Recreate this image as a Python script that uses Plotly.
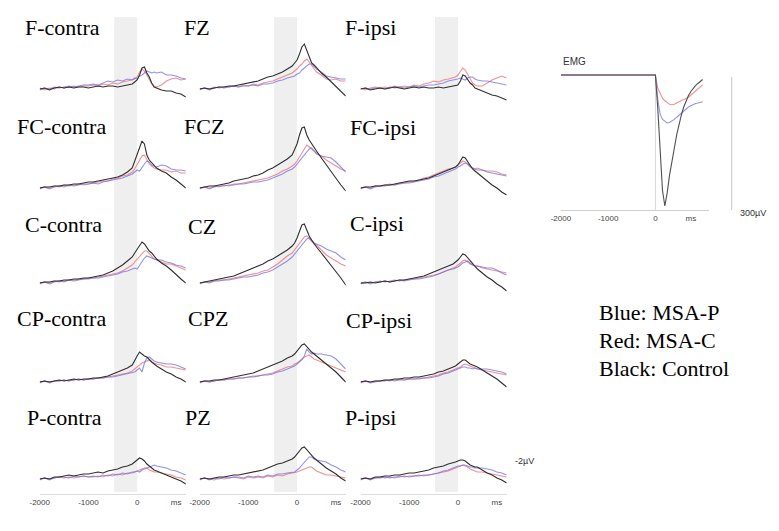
import plotly.graph_objects as go

# time points (ms) for the EEG averages
eeg_t = [-2000, -1900, -1800, -1700, -1600, -1500, -1400, -1300, -1200, -1100,
         -1000, -900, -800, -700, -600, -500, -400, -300, -200, -100,
         -50, 0, 50, 100, 150, 200, 250, 300, 350, 400,
         500, 600, 700, 800, 900, 1000]

# amplitudes in uV (negative = up)
f_contra_blue = [0.1, -0.1, 0.0, -0.2, -0.1, -0.2, -0.3, -0.2, -0.3, -0.4, -0.4, -0.5, -0.4, -0.6, -0.8, -0.7, -0.9, -0.8, -1.0, -0.9,
                 -1.1, -1.0, -1.3, -1.4, -1.6, -1.8, -1.7, -1.6, -1.7, -1.6,
                 -1.7, -1.4, -1.4, -1.3, -1.1, -1.0]
f_contra_red = [-0.1, 0.1, -0.1, 0.0, -0.2, -0.1, -0.2, -0.3, -0.2, -0.3, -0.3, -0.4, -0.3, -0.5, -0.4, -0.6, -0.5, -0.7, -0.8, -0.9,
                -1.0, -1.2, -1.7, -2.0, -1.8, -1.4, -0.9, -0.5, -0.3, -0.2,
                -0.4, -0.8, -1.0, -1.1, -0.9, -1.0]
f_contra_black = [0.0, -0.1, 0.1, -0.1, -0.2, -0.1, -0.2, -0.1, -0.2, -0.2, -0.1, -0.2, -0.3, -0.2, -0.3, -0.3, -0.2, -0.3, -0.4, -0.5,
                  -0.7, -0.9, -1.4, -2.1, -2.2, -1.6, -1.2, -0.6, -0.2, -0.1,
                  0.1, 0.2, 0.2, 0.4, 0.5, 0.8]

fz_blue = [0.0, -0.1, 0.1, -0.1, -0.2, -0.1, -0.2, -0.3, -0.2, -0.3, -0.3, -0.4, -0.3, -0.5, -0.5, -0.6, -0.8, -0.9, -1.1, -1.2,
           -1.3, -1.5, -1.6, -1.9, -2.1, -2.3, -2.5, -2.5, -2.2, -2.0,
           -1.7, -1.3, -1.2, -1.1, -1.0, -1.0]
fz_red = [0.1, -0.1, 0.0, -0.2, -0.1, -0.2, -0.2, -0.3, -0.2, -0.4, -0.3, -0.5, -0.4, -0.6, -0.7, -0.8, -1.0, -1.2, -1.4, -1.6,
          -1.8, -2.0, -2.3, -2.5, -2.8, -3.0, -2.7, -2.3, -2.0, -1.7,
          -1.4, -1.0, -0.9, -1.0, -0.8, -0.8]
fz_black = [0.0, -0.1, 0.0, -0.1, -0.2, -0.2, -0.3, -0.3, -0.4, -0.5, -0.6, -0.7, -0.8, -1.0, -1.2, -1.3, -1.5, -1.7, -2.0, -2.3,
            -2.6, -2.9, -3.5, -4.2, -4.5, -3.8, -3.1, -2.6, -2.4, -2.1,
            -1.6, -1.2, -0.7, -0.2, 0.3, 0.7]

f_ipsi_blue = [0.0, -0.1, 0.0, -0.1, -0.1, 0.0, -0.2, -0.1, -0.2, -0.1, -0.2, -0.3, -0.2, -0.3, -0.4, -0.4, -0.5, -0.6, -0.8, -0.9,
               -0.9, -1.0, -1.1, -1.0, -0.9, -1.1, -1.2, -1.2, -1.0, -0.9,
               -0.8, -0.8, -0.7, -0.6, -0.5, -0.4]
f_ipsi_red = [-0.1, 0.1, -0.1, -0.2, -0.1, -0.2, -0.1, -0.3, -0.2, -0.3, -0.2, -0.4, -0.3, -0.5, -0.6, -0.8, -0.7, -0.9, -1.0, -1.1,
              -1.2, -1.4, -1.8, -2.1, -1.9, -1.5, -1.0, -0.6, -0.4, -0.3,
              -0.3, -0.6, -0.9, -1.1, -1.3, -1.1]
f_ipsi_black = [0.0, -0.1, 0.1, 0.0, -0.1, 0.0, -0.1, -0.2, -0.1, 0.0, -0.1, -0.2, -0.1, -0.2, -0.1, -0.1, -0.2, -0.1, -0.2, -0.3,
                -0.3, -0.4, -0.8, -1.4, -1.3, -0.9, -0.6, -0.4, -0.1, 0.0,
                0.2, 0.4, 0.6, 0.7, 0.9, 1.1]

fc_contra_blue = [0.0, -0.1, 0.1, -0.1, -0.2, -0.1, -0.3, -0.2, -0.3, -0.4, -0.4, -0.5, -0.4, -0.6, -0.7, -0.8, -0.9, -1.0, -1.2, -1.4,
                  -1.6, -1.8, -1.7, -2.1, -2.4, -2.7, -2.6, -2.3, -2.2, -2.1,
                  -2.3, -2.2, -1.9, -1.8, -1.8, -1.7]
fc_contra_red = [0.1, -0.1, 0.0, -0.2, -0.1, -0.3, -0.2, -0.3, -0.4, -0.3, -0.4, -0.5, -0.6, -0.7, -0.7, -0.9, -1.0, -1.2, -1.3, -1.6,
                 -1.9, -2.3, -2.8, -3.2, -3.3, -2.9, -2.4, -2.2, -2.0, -1.9,
                 -1.8, -1.8, -1.6, -1.7, -1.5, -1.5]
fc_contra_black = [0.0, -0.1, -0.1, -0.2, -0.2, -0.3, -0.3, -0.4, -0.4, -0.5, -0.6, -0.6, -0.7, -0.8, -0.9, -1.0, -1.1, -1.3, -1.6, -2.0,
                   -2.7, -3.3, -4.0, -4.7, -4.4, -3.3, -2.8, -2.5, -2.2, -2.0,
                   -1.7, -1.5, -1.1, -0.8, -0.4, 0.0]

fcz_blue = [0.0, -0.1, 0.1, -0.1, -0.2, -0.2, -0.3, -0.3, -0.4, -0.4, -0.5, -0.6, -0.6, -0.7, -0.8, -1.0, -1.2, -1.4, -1.7, -1.9,
            -2.1, -2.4, -2.6, -2.9, -3.3, -3.6, -3.9, -4.0, -3.7, -3.4,
            -3.2, -3.1, -3.0, -2.6, -2.1, -1.6]
fcz_red = [0.1, -0.1, 0.0, -0.2, -0.1, -0.3, -0.2, -0.4, -0.4, -0.5, -0.6, -0.7, -0.8, -0.9, -1.0, -1.2, -1.4, -1.7, -1.9, -2.2,
           -2.4, -2.7, -3.1, -3.6, -4.0, -4.3, -4.1, -3.9, -3.7, -3.5,
           -3.2, -2.8, -2.5, -2.2, -1.9, -1.7]
fcz_black = [0.0, -0.1, -0.2, -0.2, -0.3, -0.4, -0.5, -0.7, -0.8, -0.9, -1.0, -1.2, -1.3, -1.5, -1.8, -2.0, -2.3, -2.6, -2.9, -3.3,
             -3.8, -4.4, -5.3, -6.0, -6.1, -5.3, -4.8, -4.4, -4.0, -3.7,
             -3.0, -2.3, -1.6, -0.9, -0.3, 0.3]

fc_ipsi_blue = [0.0, -0.1, 0.1, -0.1, -0.2, -0.2, -0.3, -0.3, -0.4, -0.5, -0.5, -0.6, -0.7, -0.8, -0.9, -1.1, -1.2, -1.4, -1.6, -1.8,
                -1.9, -2.1, -2.2, -2.4, -2.5, -2.4, -2.2, -2.0, -1.9, -1.8,
                -1.8, -1.6, -1.5, -1.4, -1.3, -1.2]
fc_ipsi_red = [0.1, -0.1, 0.0, -0.2, -0.2, -0.3, -0.4, -0.3, -0.5, -0.5, -0.6, -0.7, -0.8, -1.0, -1.1, -1.3, -1.5, -1.7, -1.9, -2.0,
               -2.1, -2.3, -2.5, -2.7, -2.6, -2.3, -2.1, -2.0, -1.9, -2.0,
               -1.8, -1.7, -1.7, -1.6, -1.4, -1.3]
fc_ipsi_black = [0.0, -0.1, -0.1, -0.2, -0.2, -0.3, -0.3, -0.4, -0.5, -0.6, -0.7, -0.7, -0.8, -0.9, -1.0, -1.2, -1.4, -1.6, -1.8, -2.0,
                 -2.1, -2.3, -2.7, -3.1, -3.0, -2.6, -2.2, -1.9, -1.7, -1.5,
                 -1.1, -0.7, -0.3, 0.0, 0.4, 0.7]

c_contra_blue = [0.0, -0.1, 0.1, -0.1, -0.2, -0.1, -0.3, -0.2, -0.3, -0.4, -0.4, -0.5, -0.5, -0.6, -0.7, -0.8, -0.9, -1.1, -1.2, -1.4,
                 -1.5, -1.4, -1.8, -2.2, -2.5, -2.7, -2.6, -2.5, -2.4, -2.3,
                 -2.3, -2.1, -2.0, -1.8, -1.7, -1.5]
c_contra_red = [0.1, -0.1, 0.0, -0.2, -0.1, -0.2, -0.3, -0.3, -0.4, -0.4, -0.5, -0.5, -0.6, -0.7, -0.8, -0.9, -1.0, -1.2, -1.5, -1.8,
                -2.1, -2.4, -2.7, -3.0, -3.2, -3.2, -2.9, -2.6, -2.4, -2.3,
                -2.1, -1.9, -1.9, -1.7, -1.5, -1.3]
c_contra_black = [0.0, -0.1, -0.1, -0.2, -0.2, -0.3, -0.3, -0.4, -0.4, -0.5, -0.5, -0.6, -0.7, -0.8, -1.0, -1.2, -1.5, -1.8, -2.2, -2.6,
                  -3.0, -3.4, -3.8, -4.1, -3.9, -3.5, -3.2, -3.0, -2.7, -2.4,
                  -2.0, -1.7, -1.3, -0.8, -0.4, 0.0]

cz_blue = [0.0, -0.1, 0.0, -0.2, -0.2, -0.3, -0.3, -0.4, -0.5, -0.6, -0.6, -0.7, -0.8, -1.0, -1.1, -1.3, -1.6, -1.9, -2.2, -2.6,
           -2.9, -3.2, -3.5, -3.9, -4.2, -4.4, -4.5, -4.2, -4.0, -3.9,
           -3.7, -3.4, -3.2, -3.0, -2.6, -2.3]
cz_red = [0.1, -0.1, -0.1, -0.2, -0.3, -0.3, -0.4, -0.5, -0.6, -0.7, -0.8, -0.9, -1.0, -1.2, -1.3, -1.6, -1.9, -2.3, -2.7, -3.0,
          -3.3, -3.6, -4.0, -4.3, -4.6, -4.7, -4.4, -4.1, -3.9, -3.8,
          -3.3, -2.8, -2.5, -2.2, -1.9, -1.7]
cz_black = [0.0, -0.1, -0.2, -0.3, -0.4, -0.5, -0.6, -0.7, -0.9, -1.1, -1.3, -1.5, -1.7, -1.9, -2.2, -2.4, -2.7, -3.0, -3.3, -3.7,
            -4.0, -4.5, -5.2, -5.8, -5.9, -5.2, -4.7, -4.3, -3.9, -3.6,
            -3.0, -2.4, -1.8, -1.2, -0.5, 0.2]

c_ipsi_blue = [0.0, -0.1, 0.1, -0.1, -0.1, -0.2, -0.1, -0.2, -0.3, -0.2, -0.3, -0.4, -0.4, -0.5, -0.6, -0.7, -0.9, -1.1, -1.3, -1.4,
               -1.5, -1.6, -1.8, -2.0, -2.1, -2.2, -2.0, -1.8, -1.7, -1.7,
               -1.6, -1.5, -1.5, -1.3, -1.0, -0.8]
c_ipsi_red = [0.1, -0.1, 0.0, -0.1, -0.2, -0.1, -0.2, -0.3, -0.2, -0.3, -0.4, -0.4, -0.5, -0.6, -0.7, -0.8, -0.9, -1.1, -1.3, -1.5,
              -1.6, -1.8, -2.0, -2.2, -2.3, -2.1, -1.9, -1.8, -1.7, -1.7,
              -1.5, -1.4, -1.3, -1.2, -1.1, -1.0]
c_ipsi_black = [0.0, 0.0, -0.1, 0.0, -0.1, -0.2, -0.1, -0.2, -0.3, -0.3, -0.4, -0.5, -0.6, -0.7, -0.9, -1.1, -1.3, -1.5, -1.7, -1.9,
                -2.1, -2.3, -2.6, -2.9, -2.8, -2.5, -2.3, -2.0, -1.7, -1.4,
                -1.0, -0.6, -0.3, 0.1, 0.4, 0.8]

cp_contra_blue = [0.0, -0.1, 0.1, -0.1, -0.1, -0.2, -0.1, -0.2, -0.3, -0.2, -0.3, -0.3, -0.4, -0.4, -0.5, -0.5, -0.6, -0.7, -0.8, -0.9,
                  -1.0, -1.2, -1.4, -1.0, -1.9, -2.4, -2.5, -2.3, -2.1, -2.0,
                  -1.9, -1.8, -1.8, -1.7, -1.5, -1.3]
cp_contra_red = [0.1, -0.1, 0.0, -0.1, -0.1, -0.2, -0.1, -0.2, -0.3, -0.2, -0.3, -0.3, -0.4, -0.4, -0.5, -0.6, -0.7, -0.8, -0.9, -1.1,
                 -1.3, -1.5, -1.7, -1.9, -2.0, -2.1, -2.2, -2.0, -1.9, -1.8,
                 -1.7, -1.5, -1.5, -1.4, -1.3, -1.2]
cp_contra_black = [0.0, -0.1, 0.0, -0.1, -0.2, -0.1, -0.2, -0.3, -0.2, -0.3, -0.3, -0.4, -0.4, -0.5, -0.6, -0.8, -1.0, -1.2, -1.4, -1.7,
                   -2.2, -2.6, -3.0, -2.8, -2.6, -2.5, -2.2, -2.0, -1.8, -1.6,
                   -1.3, -1.0, -0.8, -0.5, -0.3, 0.0]

cpz_blue = [0.0, -0.1, 0.0, -0.1, -0.2, -0.2, -0.3, -0.3, -0.4, -0.4, -0.5, -0.5, -0.6, -0.7, -0.7, -0.8, -1.0, -1.1, -1.3, -1.5,
            -1.6, -1.8, -2.0, -2.2, -2.6, -3.3, -3.0, -2.8, -2.9, -2.8,
            -2.8, -2.7, -2.6, -2.3, -1.8, -1.3]
cpz_red = [0.1, -0.1, 0.0, -0.1, -0.2, -0.2, -0.3, -0.3, -0.4, -0.4, -0.5, -0.6, -0.6, -0.7, -0.8, -0.9, -1.1, -1.3, -1.5, -1.6,
           -1.8, -1.9, -2.1, -2.3, -2.5, -2.6, -2.7, -2.5, -2.3, -2.2,
           -2.0, -1.8, -1.6, -1.4, -1.2, -1.0]
cpz_black = [0.0, -0.1, -0.1, -0.2, -0.2, -0.3, -0.4, -0.5, -0.6, -0.7, -0.8, -0.9, -1.1, -1.3, -1.5, -1.7, -1.9, -2.1, -2.4, -2.6,
             -2.8, -3.1, -3.4, -3.7, -3.8, -3.5, -3.2, -3.0, -2.8, -2.6,
             -2.2, -1.8, -1.4, -1.0, -0.5, 0.0]

cp_ipsi_blue = [0.0, -0.1, 0.1, 0.0, -0.1, -0.1, -0.2, -0.1, -0.2, -0.2, -0.3, -0.3, -0.3, -0.4, -0.4, -0.5, -0.6, -0.8, -0.9, -1.1,
                -1.2, -1.3, -1.4, -1.5, -1.5, -1.4, -1.4, -1.3, -1.4, -1.3,
                -1.3, -1.3, -1.2, -1.1, -1.0, -0.8]
cp_ipsi_red = [0.1, -0.1, 0.0, -0.1, -0.1, -0.2, -0.1, -0.2, -0.3, -0.2, -0.3, -0.3, -0.4, -0.4, -0.5, -0.6, -0.7, -0.9, -1.0, -1.2,
               -1.3, -1.4, -1.5, -1.7, -1.8, -1.7, -1.6, -1.5, -1.4, -1.3,
               -1.2, -1.1, -1.0, -0.9, -0.8, -0.7]
cp_ipsi_black = [0.0, -0.1, 0.0, -0.1, -0.1, -0.2, -0.2, -0.3, -0.3, -0.4, -0.4, -0.5, -0.5, -0.6, -0.7, -0.8, -1.0, -1.1, -1.3, -1.5,
                 -1.6, -1.8, -2.0, -2.2, -2.2, -2.0, -1.8, -1.7, -1.6, -1.5,
                 -1.2, -0.9, -0.6, -0.3, 0.1, 0.5]

p_contra_blue = [0.0, -0.1, 0.1, -0.1, -0.2, -0.2, -0.1, -0.3, -0.2, -0.3, -0.2, -0.3, -0.2, -0.4, -0.3, -0.5, -0.4, -0.6, -0.5, -0.7,
                 -0.7, -0.8, -0.7, -0.9, -1.0, -1.1, -1.2, -1.3, -1.4, -1.3,
                 -1.2, -1.1, -0.9, -0.8, -0.6, -0.4]
p_contra_red = [0.1, -0.1, 0.0, -0.1, -0.2, -0.1, -0.2, -0.1, -0.2, -0.3, -0.2, -0.2, -0.3, -0.2, -0.4, -0.3, -0.5, -0.4, -0.6, -0.6,
                -0.7, -0.8, -0.9, -1.0, -1.1, -1.1, -0.9, -0.8, -0.7, -0.7,
                -0.6, -0.5, -0.4, -0.2, -0.1, 0.1]
p_contra_black = [0.0, -0.1, 0.0, -0.2, -0.2, -0.3, -0.4, -0.3, -0.4, -0.5, -0.5, -0.6, -0.7, -0.6, -0.8, -0.9, -1.0, -1.2, -1.3, -1.5,
                  -1.7, -1.9, -2.1, -2.0, -1.8, -1.5, -1.3, -1.1, -0.9, -0.8,
                  -0.6, -0.4, -0.2, 0.0, 0.2, 0.5]

pz_blue = [0.0, -0.1, 0.1, -0.1, 0.0, -0.2, -0.1, -0.2, -0.2, -0.1, -0.3, -0.2, -0.3, -0.2, -0.4, -0.3, -0.5, -0.5, -0.6, -0.7,
           -0.7, -0.9, -1.1, -1.4, -1.7, -2.0, -2.2, -2.2, -2.0, -1.9,
           -1.8, -1.7, -1.4, -1.2, -0.9, -0.7]
pz_red = [0.1, -0.1, 0.0, 0.1, -0.1, 0.0, -0.1, -0.2, -0.1, 0.0, -0.2, -0.1, -0.2, -0.1, -0.3, -0.2, -0.4, -0.3, -0.5, -0.6,
          -0.6, -0.7, -0.8, -0.9, -1.0, -1.1, -1.2, -1.2, -1.0, -0.8,
          -0.6, -0.4, -0.4, -0.3, -0.2, -0.1]
pz_black = [0.0, -0.1, 0.0, -0.1, -0.2, -0.2, -0.3, -0.4, -0.4, -0.5, -0.6, -0.7, -0.8, -0.9, -1.1, -1.3, -1.5, -1.6, -1.8, -2.0,
            -2.2, -2.5, -2.8, -3.1, -3.2, -2.9, -2.6, -2.4, -2.1, -1.9,
            -1.5, -1.1, -0.8, -0.5, -0.1, 0.2]

p_ipsi_blue = [0.0, -0.1, 0.1, -0.1, -0.1, -0.2, -0.1, -0.2, -0.2, -0.3, -0.2, -0.3, -0.3, -0.4, -0.4, -0.5, -0.6, -0.8, -0.9, -1.1,
               -1.2, -1.3, -1.3, -1.4, -1.3, -1.3, -1.2, -1.2, -1.1, -1.1,
               -1.1, -1.0, -0.9, -0.7, -0.6, -0.4]
p_ipsi_red = [0.1, -0.1, 0.0, -0.1, -0.2, -0.1, -0.2, -0.1, -0.3, -0.2, -0.3, -0.3, -0.4, -0.3, -0.4, -0.5, -0.6, -0.7, -0.8, -1.0,
              -1.1, -1.2, -1.3, -1.4, -1.4, -1.2, -1.0, -0.9, -0.8, -0.7,
              -0.7, -0.6, -0.5, -0.4, -0.3, -0.2]
p_ipsi_black = [0.0, -0.1, 0.0, -0.2, -0.2, -0.3, -0.3, -0.4, -0.4, -0.5, -0.6, -0.6, -0.7, -0.8, -0.9, -1.1, -1.2, -1.3, -1.5, -1.6,
                -1.7, -1.8, -1.9, -1.9, -1.8, -1.6, -1.4, -1.3, -1.2, -1.2,
                -0.9, -0.6, -0.4, -0.1, 0.1, 0.4]

# EMG averages (uV)
emg_t = [-2000, -1000, 0, 50, 100, 150, 200, 250, 300, 350, 400, 450, 500,
         550, 600, 650, 700, 750, 800, 850, 900, 950, 1000]
emg_blue = [0, 0, 0, -55, -88, -100, -105, -108, -107, -104, -100, -95, -90,
            -85, -80, -76, -72, -69, -66, -64, -63, -61, -60]
emg_red = [0, 0, 0, -30, -42, -52, -58, -63, -66, -67, -66, -63, -60,
           -57, -55, -53, -50, -45, -40, -35, -30, -26, -22]
emg_black = [0, 0, 0, -75, -170, -260, -295, -265, -225, -190, -165, -135, -110,
             -90, -72, -58, -46, -37, -30, -24, -19, -14, -10]

panels = [
    [('F-contra', f_contra_blue, f_contra_red, f_contra_black),
     ('FZ', fz_blue, fz_red, fz_black),
     ('F-ipsi', f_ipsi_blue, f_ipsi_red, f_ipsi_black)],
    [('FC-contra', fc_contra_blue, fc_contra_red, fc_contra_black),
     ('FCZ', fcz_blue, fcz_red, fcz_black),
     ('FC-ipsi', fc_ipsi_blue, fc_ipsi_red, fc_ipsi_black)],
    [('C-contra', c_contra_blue, c_contra_red, c_contra_black),
     ('CZ', cz_blue, cz_red, cz_black),
     ('C-ipsi', c_ipsi_blue, c_ipsi_red, c_ipsi_black)],
    [('CP-contra', cp_contra_blue, cp_contra_red, cp_contra_black),
     ('CPZ', cpz_blue, cpz_red, cpz_black),
     ('CP-ipsi', cp_ipsi_blue, cp_ipsi_red, cp_ipsi_black)],
    [('P-contra', p_contra_blue, p_contra_red, p_contra_black),
     ('PZ', pz_blue, pz_red, pz_black),
     ('P-ipsi', p_ipsi_blue, p_ipsi_red, p_ipsi_black)],
]

W, H = 779, 531
# the page puts the plot a few px right/down, so positions are pulled back by this much
OX, OY = 15, 8
BLUE = 'rgba(110,110,230,0.75)'
RED = 'rgba(238,105,105,0.75)'
BLACK = '#2e2e2e'
SERIF = 'Liberation Serif, Times New Roman, serif'
SANS = 'Liberation Sans, Arial, sans-serif'


def px(x):
    return (x - OX) / W


def py(y):
    return 1 - (y - OY) / H


col_left = [37, 199, 362]
col_w = 148
row_base = [89, 188, 283, 382, 479]
label_pos = [
    [(20, 27), (181, 27), (344, 28)],
    [(12, 126), (181, 126), (349, 127)],
    [(20, 224), (185, 226), (349, 223)],
    [(12, 318), (185, 318), (345, 320)],
    [(22, 417), (182, 417), (344, 417)],
]

fig = go.Figure()
layout = {}
annotations = []
shapes = []

n = 0
for r, row in enumerate(panels):
    for c, (name, blue, red, black) in enumerate(row):
        n += 1
        xa = 'xaxis' if n == 1 else 'xaxis%d' % n
        ya = 'yaxis' if n == 1 else 'yaxis%d' % n
        xr = 'x' if n == 1 else 'x%d' % n
        yr = 'y' if n == 1 else 'y%d' % n
        for vals, col in ((red, RED), (blue, BLUE), (black, BLACK)):
            if len(vals) != len(eeg_t):
                raise ValueError('%s: %d values' % (name, len(vals)))
            fig.add_trace(go.Scatter(x=eeg_t, y=vals, mode='lines', xaxis=xr, yaxis=yr,
                                     line=dict(color=col, width=1.1), hoverinfo='skip'))
        bottom = r == len(panels) - 1
        layout[xa] = dict(domain=[px(col_left[c]), px(col_left[c] + col_w)],
                          range=[-2000, 1000], anchor=yr, showgrid=False, zeroline=False,
                          showline=bottom, linecolor='#dcdcdc', linewidth=1,
                          showticklabels=bottom, ticks='',
                          tickvals=[-2000, -1000, 0, 800],
                          ticktext=['-2000', '-1000', '0', 'ms'],
                          tickfont=dict(family=SANS, size=8, color='#444'))
        base = row_base[r]
        layout[ya] = dict(domain=[py(base + 15), py(base - 65)], range=[1.5, -6.5],
                          anchor=xr, visible=False)
        lx, ly = label_pos[r][c]
        annotations.append(dict(text=name, xref='paper', yref='paper', x=px(lx), y=py(ly),
                                xanchor='left', yanchor='middle', showarrow=False,
                                font=dict(family=SERIF, size=22, color='black')))
        if r == 0:
            # grey window before movement onset, running through all rows
            shapes.append(dict(type='rect', xref=xr, yref='paper', x0=-470, x1=0,
                               y0=py(492), y1=py(17), fillcolor='#efefef',
                               line=dict(width=0), layer='below'))

# EMG panel
n += 1
xr, yr = 'x%d' % n, 'y%d' % n
for vals, col in ((emg_red, RED), (emg_blue, BLUE), (emg_black, '#505050')):
    fig.add_trace(go.Scatter(x=emg_t, y=vals, mode='lines', xaxis=xr, yaxis=yr,
                             line=dict(color=col, width=1.1), hoverinfo='skip'))
layout['xaxis%d' % n] = dict(domain=[px(565), px(715)], range=[-2000, 1135], anchor=yr,
                             showgrid=False, zeroline=False, showline=True,
                             linecolor='#cfcfcf', ticks='',
                             tickvals=[-2000, -1000, 0, 750],
                             ticktext=['-2000', '-1000', '0', 'ms'],
                             tickfont=dict(family=SANS, size=8, color='#444'))
layout['yaxis%d' % n] = dict(domain=[py(210), py(70.6)], range=[-304, 10],
                             anchor=xr, visible=False)
shapes.append(dict(type='line', xref=xr, yref=yr, x0=0, x1=0, y0=0, y1=-304,
                   line=dict(color='#d8d8d8', width=1), layer='below'))
shapes.append(dict(type='line', xref='paper', yref='paper', x0=px(738), x1=px(738),
                   y0=py(210), y1=py(77), line=dict(color='#c4c4c4', width=1)))

small = dict(family=SANS, size=9, color='#333')
annotations.append(dict(text='EMG', xref='paper', yref='paper', x=px(565), y=py(62),
                        xanchor='left', yanchor='middle', showarrow=False,
                        font=dict(family=SANS, size=10, color='#333')))
annotations.append(dict(text='300µV', xref='paper', yref='paper', x=px(744), y=py(213),
                        xanchor='left', yanchor='middle', showarrow=False, font=small))
annotations.append(dict(text='-2µV', xref='paper', yref='paper', x=px(516), y=py(461),
                        xanchor='left', yanchor='middle', showarrow=False, font=small))

legend_lines = ['Blue: MSA-P', 'Red: MSA-C', 'Black: Control']
for i, t in enumerate(legend_lines):
    annotations.append(dict(text=t, xref='paper', yref='paper', x=px(602), y=py(312 + 28 * i),
                            xanchor='left', yanchor='middle', showarrow=False,
                            font=dict(family=SERIF, size=22, color='black')))

fig.update_layout(**layout)
fig.update_layout(width=W, height=H, margin=dict(l=0, r=0, t=0, b=0),
                  paper_bgcolor='white', plot_bgcolor='rgba(0,0,0,0)',
                  showlegend=False, annotations=annotations, shapes=shapes)

fig.write_html("out.html")
